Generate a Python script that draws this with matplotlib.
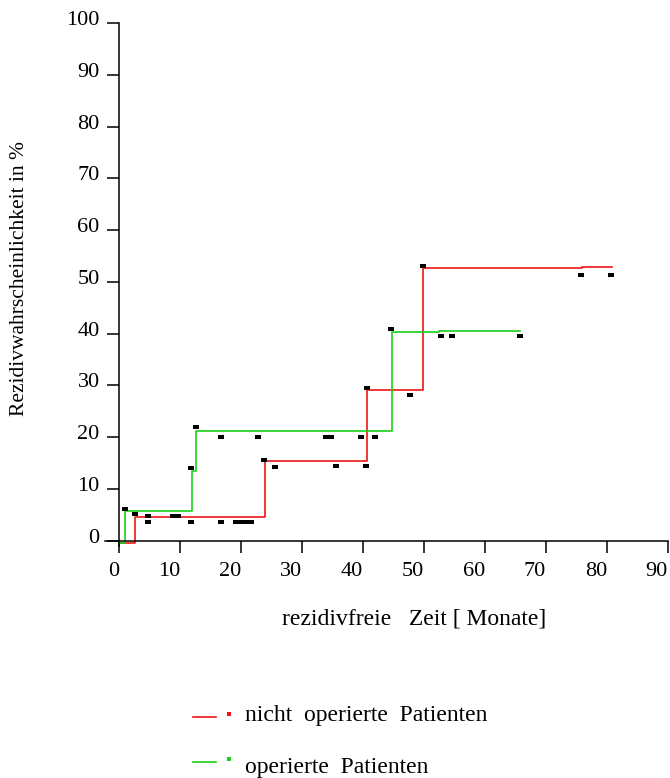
import numpy as np
import matplotlib.pyplot as plt
import matplotlib.transforms as mtransforms
from matplotlib.lines import Line2D

plt.rcParams['font.family'] = ['Liberation Serif', 'DejaVu Serif']

# step curves (time in months, recurrence probability in %)
red_t = [0, 2.7, 23.9, 40.7, 49.9, 75.9, 80.9]
red_v = [-0.5, 4.6, 15.4, 29.1, 52.6, 52.9, 52.9]
green_t = [0, 0.9, 11.9, 12.7, 44.7, 52.5, 65.7]
green_v = [-0.4, 5.7, 13.4, 21.2, 40.4, 40.6, 40.6]

# small black tick marks
mark_t = [0.9, 2.7, 4.8, 4.8, 8.8, 9.6, 11.8, 11.8, 12.7, 16.7, 16.7,
          19.1, 19.9, 20.8, 21.6, 22.8, 23.8, 25.6, 33.9, 34.8, 35.6,
          39.7, 40.5, 40.6, 41.9, 44.6, 47.7, 49.8, 52.8, 54.6, 65.7,
          75.7, 80.7]
mark_v = [6.1, 5.1, 4.8, 3.7, 4.8, 4.8, 14.0, 3.7, 21.9, 20.0, 3.7,
          3.7, 3.7, 3.7, 3.7, 20.0, 15.7, 14.2, 20.0, 20.0, 14.4,
          20.0, 14.4, 29.6, 20.0, 41.0, 28.2, 53.1, 39.5, 39.5, 39.5,
          51.3, 51.3]

xticks = np.arange(0, 100, 10)
yticks = np.arange(0, 110, 10)

red = '#f01414'
green = '#18d018'

fig = plt.figure(figsize=(6.7, 7.78), dpi=100)
ax = fig.add_axes([105 / 670, 1 - 546 / 778, 563 / 670, 523 / 778])

ax.step(red_t, red_v, where='post', color=red, lw=1.2)
ax.step(green_t, green_v, where='post', color=green, lw=1.2)

box = [(-1, -0.55), (1, -0.55), (1, 0.55), (-1, 0.55), (-1, -0.55)]
ax.plot(mark_t, mark_v, ls='none', marker=box, markersize=4.5,
        color='black', mew=0)

ax.set_xlim(-2.3, 90)
ax.set_ylim(-1, 100)
ax.spines['left'].set_position(('data', 0))
ax.spines['bottom'].set_position(('data', 0))
ax.spines['top'].set_visible(False)
ax.spines['right'].set_visible(False)
ax.spines['left'].set_bounds(-1, 100)
for side in ('left', 'bottom'):
    ax.spines[side].set_linewidth(1.1)
ax.set_xticks(xticks)
ax.set_yticks(yticks)
ax.tick_params(direction='out', length=8.5, width=1.1, labelsize=16)
ax.tick_params(axis='x', pad=7)
ax.tick_params(axis='y', pad=5.5)
for lab in ax.get_xticklabels():
    lab.set_horizontalalignment('right')
shift_up = mtransforms.ScaledTranslation(0, 0.05, fig.dpi_scale_trans)
for lab in ax.get_yticklabels():
    lab.set_transform(lab.get_transform() + shift_up)

fig.text(414 / 670, 1 - 625 / 778, 'rezidivfreie   Zeit [ Monate]',
         ha='center', va='baseline', fontsize=17)
fig.text(20 / 670, 1 - 278 / 778, 'Rezidivwahrscheinlichkeit in %',
         ha='center', va='center', rotation=90, fontsize=15.5)

# legend
legend_items = [('nicht  operierte  Patienten', red, 717, 721),
                ('operierte  Patienten', green, 762, 773)]
for label, col, ly, ty in legend_items:
    fig.add_artist(Line2D([193 / 670, 216 / 670], [1 - ly / 778, 1 - ly / 778],
                          color=col, lw=1.2))
    fig.add_artist(Line2D([229 / 670], [1 - (ly - 3) / 778], marker='s',
                          markersize=2.5, color=col, mew=0))
    fig.text(245 / 670, 1 - ty / 778, label, ha='left', va='baseline',
             fontsize=17)

fig.savefig('out.png', dpi=100)
